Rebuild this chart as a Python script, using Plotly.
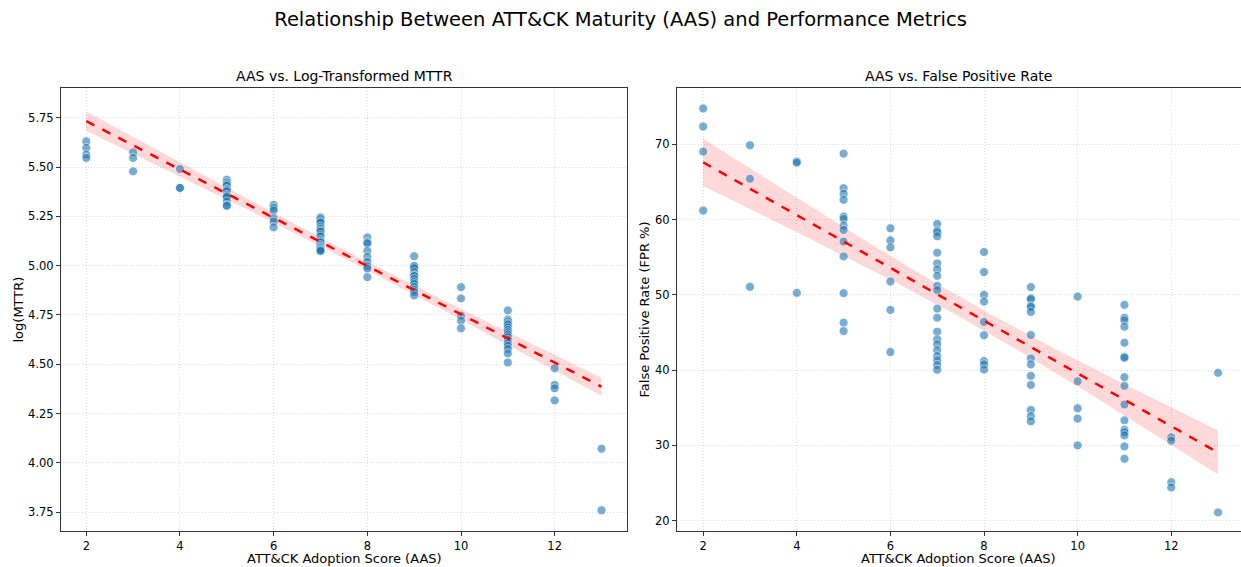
import numpy as np
import plotly.graph_objects as go
from plotly.subplots import make_subplots

# ---- data ----
aas_levels = [2, 3, 4, 5, 6, 7, 8, 9, 10, 11, 12, 13]

log_mttr_by_level = [
    [5.630, 5.597, 5.563, 5.546],
    [5.575, 5.546, 5.478],
    [5.490, 5.394, 5.394],
    [5.436, 5.422, 5.412, 5.405, 5.388, 5.382, 5.376, 5.359, 5.352, 5.347, 5.325, 5.307, 5.303],
    [5.308, 5.292, 5.279, 5.240, 5.223, 5.194],
    [5.245, 5.237, 5.223, 5.217, 5.197, 5.187, 5.177, 5.172, 5.155, 5.147,
     5.130, 5.122, 5.117, 5.104, 5.097, 5.092, 5.087, 5.082, 5.077, 5.074],
    [5.143, 5.117, 5.113, 5.075, 5.044, 5.019, 4.997, 4.985, 4.942],
    [5.048, 4.997, 4.997, 4.987, 4.967, 4.951, 4.947, 4.932, 4.917, 4.907, 4.891, 4.877, 4.866, 4.849],
    [4.891, 4.834, 4.747, 4.721, 4.682],
    [4.773, 4.727, 4.718, 4.707, 4.701, 4.687, 4.674, 4.662, 4.650, 4.637,
     4.623, 4.607, 4.594, 4.577, 4.555, 4.509],
    [4.480, 4.395, 4.378, 4.317],
    [4.072, 3.760],
]

fpr_by_level = [
    [74.76, 72.36, 69.03, 61.20],
    [69.87, 65.43, 51.07],
    [67.73, 67.56, 50.27],
    [68.76, 64.17, 63.43, 62.63, 60.40, 60.09, 59.20, 58.63, 57.07, 55.11, 50.23, 46.31, 45.20],
    [58.84, 57.24, 56.31, 51.77, 48.00, 42.40],
    [59.43, 58.53, 58.31, 57.77, 55.60, 54.17, 53.37, 52.53, 51.20, 50.63,
     48.17, 46.97, 45.11, 44.09, 43.43, 42.63, 41.87, 41.29, 40.67, 40.04],
    [55.69, 53.03, 50.00, 49.11, 46.40, 44.63, 41.20, 40.76, 40.09],
    [51.03, 49.56, 49.43, 48.53, 48.40, 47.73, 44.67, 41.56, 40.76, 39.24, 38.04, 34.71, 33.87, 33.20],
    [49.77, 38.53, 34.93, 33.56, 30.00],
    [48.67, 46.97, 46.63, 45.77, 43.64, 41.77, 41.64, 39.07, 37.91, 35.43,
     33.33, 32.09, 31.77, 31.33, 29.87, 28.23],
    [31.07, 30.63, 25.11, 24.40],
    [39.64, 21.10],
]

x_ticks = [2, 4, 6, 8, 10, 12]
left_y_ticks = [3.75, 4.00, 4.25, 4.50, 4.75, 5.00, 5.25, 5.50, 5.75]
right_y_ticks = [20, 30, 40, 50, 60, 70]

main_title = "Relationship Between ATT&CK Maturity (AAS) and Performance Metrics"
left_title = "AAS vs. Log-Transformed MTTR"
right_title = "AAS vs. False Positive Rate"
x_label = "ATT&CK Adoption Score (AAS)"
left_y_label = "log(MTTR)"
right_y_label = "False Positive Rate (FPR %)"


def flatten(levels, groups):
    xs, ys = [], []
    for lv, g in zip(levels, groups):
        xs += [lv] * len(g)
        ys += list(g)
    return np.array(xs, float), np.array(ys, float)


def fit_ci(x, y, grid):
    n = len(x)
    b, a = np.polyfit(x, y, 1)
    pred = a + b * grid
    resid = y - (a + b * x)
    s = np.sqrt(np.sum(resid ** 2) / (n - 2))
    sxx = np.sum((x - x.mean()) ** 2)
    se = s * np.sqrt(1.0 / n + (grid - x.mean()) ** 2 / sxx)
    t = 1.984
    return pred, pred - t * se, pred + t * se


FONT = "DejaVu Sans"
fig = make_subplots(rows=1, cols=2, horizontal_spacing=0.04)

panels = [(log_mttr_by_level, 1), (fpr_by_level, 2)]
for groups, col in panels:
    x, y = flatten(aas_levels, groups)
    grid = np.linspace(x.min(), x.max(), 100)
    pred, lo, hi = fit_ci(x, y, grid)
    fig.add_trace(go.Scatter(
        x=np.concatenate([grid, grid[::-1]]),
        y=np.concatenate([hi, lo[::-1]]),
        fill="toself", fillcolor="rgba(255,0,0,0.15)",
        line=dict(width=0), hoverinfo="skip", showlegend=False,
    ), row=1, col=col)
    fig.add_trace(go.Scatter(
        x=x, y=y, mode="markers",
        marker=dict(size=9, color="#1f77b4", opacity=0.6,
                    line=dict(color="white", width=0.8)),
        showlegend=False,
    ), row=1, col=col)
    fig.add_trace(go.Scatter(
        x=grid, y=pred, mode="lines",
        line=dict(color="red", width=2.5, dash="dash"),
        showlegend=False,
    ), row=1, col=col)

axis_common = dict(
    showline=True, linecolor="#333333", linewidth=1, mirror=True,
    ticks="outside", ticklen=4, tickcolor="#333333", automargin=False,
    showgrid=True, gridcolor="#d9d9d9", griddash="1px,2px", gridwidth=1,
    zeroline=False, tickfont=dict(family=FONT, size=11.5, color="black"),
)

fig.update_xaxes(**axis_common)
fig.update_yaxes(**axis_common)

fig.update_xaxes(domain=[0, 0.4799], range=[1.46, 13.55], tickvals=x_ticks, row=1, col=1)
fig.update_xaxes(domain=[0.522, 1.0], range=[1.44, 13.49], tickvals=x_ticks, row=1, col=2)
fig.update_yaxes(range=[3.655, 5.9005], tickvals=left_y_ticks,
                 ticktext=[f"{v:.2f}" for v in left_y_ticks], row=1, col=1)
fig.update_yaxes(range=[18.63, 77.48], tickvals=right_y_ticks, row=1, col=2)

lbl = dict(family=FONT, size=13, color="black")
sub = dict(family=FONT, size=14, color="black")
fig.update_layout(
    width=1241, height=567,
    margin=dict(l=61, r=0, t=88, b=36, autoexpand=False),
    paper_bgcolor="white", plot_bgcolor="white",
    font=dict(family=FONT, color="black"),
    title=dict(text=main_title, x=0.5, xanchor="center", y=1 - 19 / 567, yanchor="middle",
               font=dict(family=FONT, size=19.5, color="black")),
    annotations=[
        dict(text=left_title, xref="x domain", yref="paper", x=0.5, y=1.0,
             yshift=12, xanchor="center", yanchor="middle", showarrow=False, font=sub),
        dict(text=right_title, xref="x2 domain", yref="paper", x=0.5, y=1.0,
             yshift=12, xanchor="center", yanchor="middle", showarrow=False, font=sub),
        dict(text=x_label, xref="x domain", yref="paper", x=0.5, y=0,
             yshift=-27, xanchor="center", yanchor="middle", showarrow=False, font=lbl),
        dict(text=x_label, xref="x2 domain", yref="paper", x=0.5, y=0,
             yshift=-27, xanchor="center", yanchor="middle", showarrow=False, font=lbl),
        dict(text=left_y_label, xref="x domain", yref="y domain", x=0, y=0.5,
             xshift=-43, xanchor="center", yanchor="middle", textangle=-90,
             showarrow=False, font=lbl),
        dict(text=right_y_label, xref="x2 domain", yref="y2 domain", x=0, y=0.5,
             xshift=-32, xanchor="center", yanchor="middle", textangle=-90,
             showarrow=False, font=lbl),
    ],
)

fig.write_html(
    "out.html",
    config={"displayModeBar": False},
    post_script="document.body.style.margin='0';document.body.style.overflow='hidden';",
)
